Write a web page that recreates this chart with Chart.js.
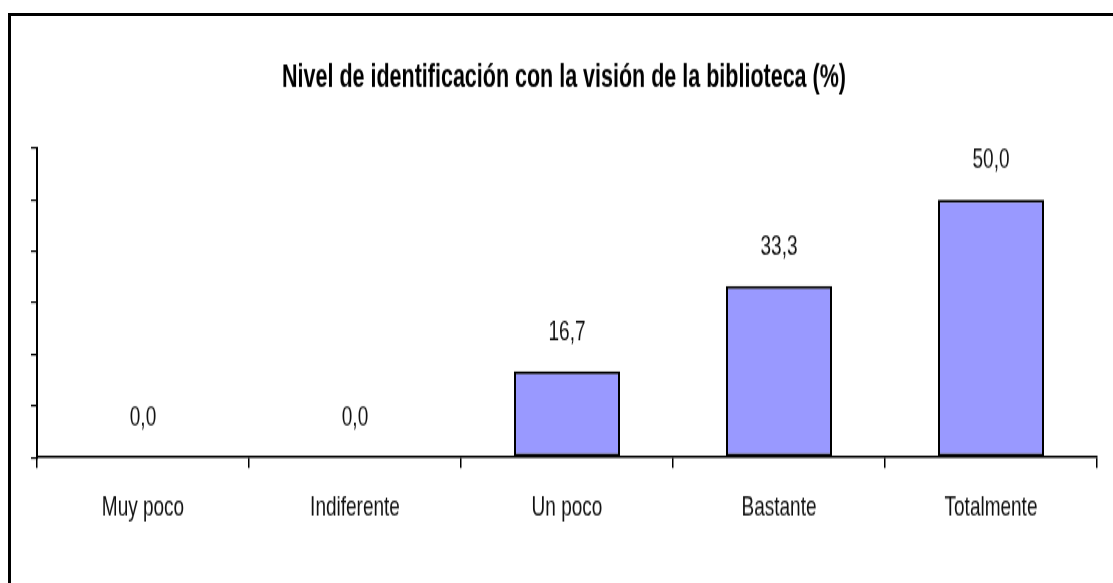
<!DOCTYPE html>
<html lang="es">

<head>
    <meta charset="UTF-8">
    <title>Nivel de identificación con la visión de la biblioteca</title>
    <script src="https://cdn.jsdelivr.net/npm/chart.js"></script>
    <style>
        html, body { margin: 0; padding: 0; background: #fff; overflow: hidden; }
        #frame {
            position: absolute; left: 8px; top: 13px;
            width: 1200px; height: 700px;
            border: 3px solid #000; box-sizing: border-box;
        }
        /* el original está estirado en vertical: se dibuja más bajo y se escala */
        #wrap {
            position: absolute; left: 0; top: 0; width: 1113px; height: 389px;
            transform: scaleY(1.4987); transform-origin: 0 0;
        }
    </style>
</head>

<body>
    <div id="frame"></div>
    <div id="wrap"><canvas id="myChart" width="1113" height="389"></canvas></div>
    <script>
        // datos
        const categorias = ['Muy poco', 'Indiferente', 'Un poco', 'Bastante', 'Totalmente'];
        const porcentajes = [0.0, 0.0, 16.7, 33.3, 50.0];
        const titulo = 'Nivel de identificación con la visión de la biblioteca (%)';

        const FONT = "'Liberation Sans', Arial, sans-serif";

        // etiquetas de valor encima de cada barra (coma decimal)
        const valueLabels = {
            id: 'valueLabels',
            afterDatasetsDraw(chart) {
                const ctx = chart.ctx;
                const meta = chart.getDatasetMeta(0);
                ctx.save();
                ctx.font = '19px ' + FONT;
                ctx.fillStyle = '#111';
                ctx.textAlign = 'center';
                ctx.textBaseline = 'alphabetic';
                meta.data.forEach((bar, i) => {
                    const txt = porcentajes[i].toFixed(1).replace('.', ',');
                    ctx.fillText(txt, bar.x, bar.y - 21);
                });
                ctx.restore();
            }
        };

        new Chart(document.getElementById('myChart'), {
            type: 'bar',
            data: {
                labels: categorias,
                datasets: [{
                    data: porcentajes,
                    backgroundColor: '#9999FF',
                    borderColor: '#000',
                    borderWidth: 2,
                    borderSkipped: false,
                    barPercentage: 0.5,
                    categoryPercentage: 1.0
                }]
            },
            options: {
                responsive: false,
                animation: false,
                layout: { padding: { left: 31, right: 16, top: 0, bottom: 24 } },
                plugins: {
                    legend: { display: false },
                    tooltip: { enabled: false },
                    title: {
                        display: true,
                        text: titulo,
                        color: '#000',
                        font: { family: FONT, size: 21.5, weight: 'bold' },
                        padding: { top: 39, bottom: 34 }
                    }
                },
                scales: {
                    x: {
                        grid: { drawOnChartArea: false, color: '#000', lineWidth: 1.5, tickLength: 7, offset: true },
                        border: { color: '#000', width: 1.5 },
                        ticks: { color: '#111', padding: 15, font: { family: FONT, size: 19 } }
                    },
                    y: {
                        min: 0,
                        max: 60,
                        grid: { drawOnChartArea: false, color: '#000', lineWidth: 1.2, tickLength: 6 },
                        border: { color: '#000', width: 2 },
                        ticks: { display: false, stepSize: 10 }
                    }
                }
            },
            plugins: [valueLabels]
        });
    </script>
</body>

</html>
